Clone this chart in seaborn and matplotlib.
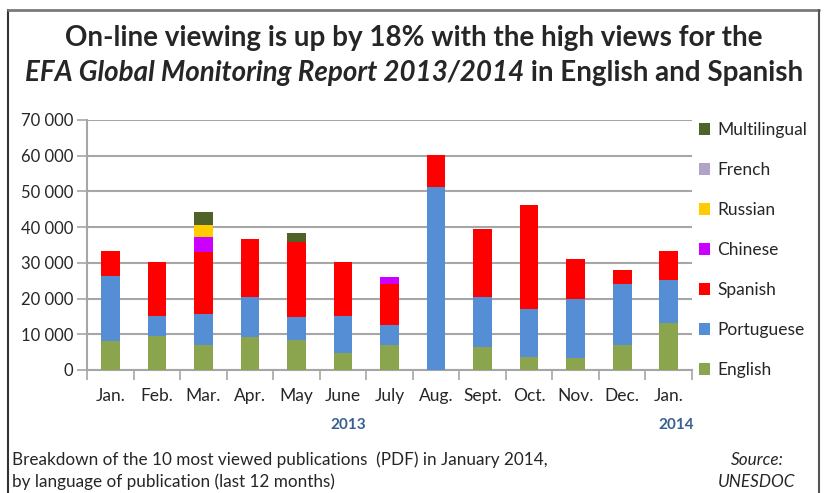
import matplotlib
matplotlib.use("Agg")
import matplotlib.pyplot as plt
import matplotlib.ticker as mticker
from matplotlib.patches import Patch
from matplotlib.lines import Line2D
import numpy as np
import pandas as pd
import seaborn as sns

# Data (views per month, stacked by language)
months = ["Jan.", "Feb.", "Mar.", "Apr.", "May", "June", "July", "Aug.", "Sept.", "Oct.", "Nov.", "Dec.", "Jan."]
english = [8200, 9600, 7100, 9300, 8500, 4700, 7100, 0, 6500, 3600, 3300, 6900, 13200]
portuguese = [18100, 5600, 8700, 11000, 6200, 10500, 5500, 51200, 13900, 13400, 16500, 17200, 12100]
spanish = [7100, 15000, 17300, 16400, 21200, 15000, 11500, 9100, 19200, 29200, 11300, 3800, 8000]
chinese = [0, 0, 4100, 0, 0, 0, 2000, 0, 0, 0, 0, 0, 0]
russian = [0, 0, 3500, 0, 0, 0, 0, 0, 0, 0, 0, 0, 0]
french = [0, 0, 0, 0, 0, 0, 0, 0, 0, 0, 0, 0, 0]
multilingual = [0, 0, 3400, 0, 2400, 0, 0, 0, 0, 0, 0, 0, 0]

languages = ["English", "Portuguese", "Spanish", "Chinese", "Russian", "French", "Multilingual"]
colors = ["#8BA54E", "#558ED5", "#FF0000", "#CC00FF", "#FFCC00", "#B3A2C7", "#4F6228"]

df = pd.DataFrame({"English": english, "Portuguese": portuguese, "Spanish": spanish,
                   "Chinese": chinese, "Russian": russian, "French": french,
                   "Multilingual": multilingual})
df["pos"] = range(len(months))

sns.set_style("white")
plt.rcParams["font.family"] = ["Lato", "DejaVu Sans"]

fig = plt.figure(figsize=(8.25, 4.93), dpi=100)
ax = fig.add_axes([0.1055, 0.2495, 0.7333, 0.5071])

# stacked bars: draw cumulative totals from the top layer down
cum = df[languages].cumsum(axis=1)
for lang, col in reversed(list(zip(languages, colors))):
    sns.barplot(x=df["pos"], y=cum[lang], color=col, width=0.4, ax=ax,
                saturation=1, edgecolor="none", zorder=3)

ax.set_ylim(0, 70000)
ax.set_xlim(-0.5, 12.5)
ax.yaxis.set_major_locator(mticker.MultipleLocator(10000))
ax.yaxis.set_major_formatter(mticker.FuncFormatter(lambda v, p: f"{int(v):,}".replace(",", " ")))
ax.grid(axis="y", color="#a6a6a6", lw=1.5, zorder=0)
ax.set_xlabel("")
ax.set_ylabel("")
ax.set_xticks(range(len(months)))
ax.set_xticklabels(months)
ax.set_xticks(np.arange(-0.5, 13, 1), minor=True)
ax.tick_params(axis="x", which="major", length=0, pad=13, labelsize=12.5)
ax.tick_params(axis="x", which="minor", length=7, width=1.2, color="#a6a6a6", direction="out", bottom=True)
ax.tick_params(axis="y", length=7, width=1.2, color="#a6a6a6", direction="out", left=True, labelsize=12, pad=3)
for s in ["top", "right"]:
    ax.spines[s].set_visible(False)
for s in ["left", "bottom"]:
    ax.spines[s].set_color("#a6a6a6")
    ax.spines[s].set_linewidth(1.5)

handles = [Patch(facecolor=c, edgecolor="none") for c in colors]
leg = fig.legend(handles[::-1], languages[::-1], loc="upper left",
                 bbox_to_anchor=(0.8385, 0.766), frameon=False, fontsize=12.5,
                 handlelength=0.65, handleheight=0.65, handletextpad=0.4,
                 labelspacing=1.38, borderaxespad=0)

fig.text(348 / 825, 1 - 425 / 493, "2013", color="#376092", fontsize=11, fontweight="bold",
         ha="center", va="center")
fig.text(676 / 825, 1 - 425 / 493, "2014", color="#376092", fontsize=11, fontweight="bold",
         ha="center", va="center")

fig.text(12 / 825, 1 - 460 / 493, "Breakdown of the 10 most viewed publications  (PDF) in January 2014,",
         fontsize=12.3, ha="left", va="center")
fig.text(12 / 825, 1 - 482 / 493, "by language of publication (last 12 months)",
         fontsize=12.3, ha="left", va="center")
fig.text(757 / 825, 1 - 460 / 493, "Source:", fontsize=12.3, style="italic", ha="center", va="center")
fig.text(757 / 825, 1 - 482 / 493, "UNESDOC", fontsize=12.3, style="italic", ha="center", va="center")

# title, second line mixes italic and upright bold
cx = 414 / 825
fig.text(cx, 1 - 38 / 493, "On-line viewing is up by 18% with the high views for the",
         fontsize=20, fontweight="bold", ha="center", va="center")
t1 = fig.text(0, 1 - 73 / 493, "EFA Global Monitoring Report 2013/2014", fontsize=20,
              fontweight="bold", style="italic", ha="left", va="center")
t2 = fig.text(0, 1 - 73 / 493, " in English and Spanish", fontsize=20,
              fontweight="bold", ha="left", va="center")
fig.canvas.draw()
r = fig.canvas.get_renderer()
w1 = t1.get_window_extent(r).width / fig.bbox.width
w2 = t2.get_window_extent(r).width / fig.bbox.width
start = cx - (w1 + w2) / 2
t1.set_x(start)
t2.set_x(start + w1)

# frame: left, top and right edges only
W, H = 825, 493
fig.add_artist(Line2D([8 / W, 8 / W], [0, 1 - 10 / H], color="#333333", lw=1.5, transform=fig.transFigure))
fig.add_artist(Line2D([8 / W, 819 / W], [1 - 10 / H, 1 - 10 / H], color="#7a7a7a", lw=2, transform=fig.transFigure))
fig.add_artist(Line2D([819 / W, 819 / W], [0, 1 - 10 / H], color="#555555", lw=1.5, transform=fig.transFigure))

fig.savefig("out.png", dpi=100)
